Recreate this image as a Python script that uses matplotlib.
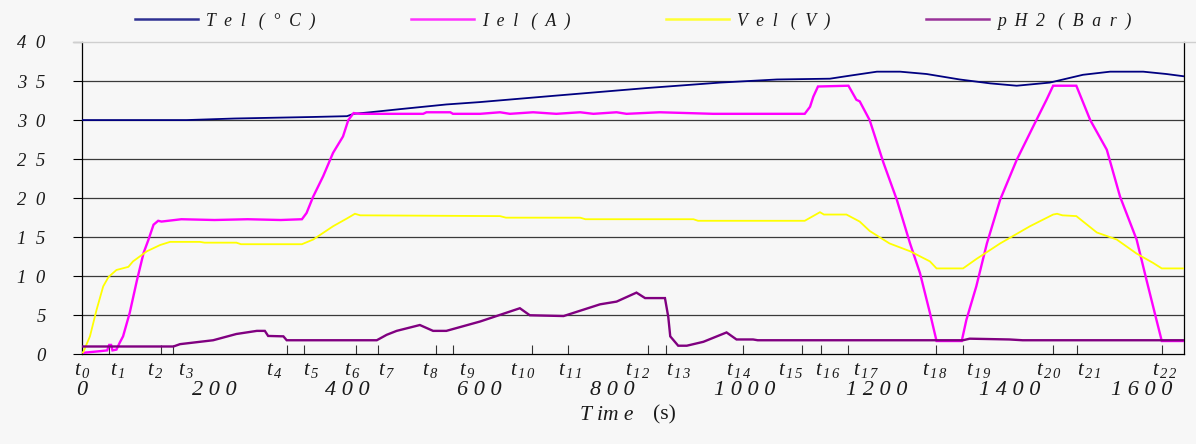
import matplotlib
matplotlib.use("Agg")
import matplotlib.pyplot as plt
from matplotlib.lines import Line2D

# ---- data (time in s) ----
tel_t = [0, 158, 230, 350, 400, 410, 435, 480, 550, 600, 711, 852, 963, 1049, 1129,
         1160, 1200, 1235, 1275, 1325, 1371, 1411, 1461, 1511, 1552, 1602, 1637, 1664]
tel_v = [30.0, 30.0, 30.2, 30.4, 30.5, 30.8, 31.0, 31.4, 32.0, 32.3, 33.1, 34.1, 34.8, 35.2, 35.3,
         35.7, 36.2, 36.2, 35.9, 35.2, 34.7, 34.4, 34.8, 35.8, 36.2, 36.2, 35.9, 35.6]

iel_t = [3, 27, 38, 41, 44, 46, 52, 57, 62, 72, 83, 93, 100, 108, 115, 120, 150, 200, 250,
         300, 332, 339, 349, 364, 379, 394, 402, 410, 420, 515, 520, 556, 560, 601, 631, 646,
         681, 716, 752, 772, 807, 822, 872, 913, 953, 1091, 1099, 1104, 1111, 1157, 1169, 1174,
         1189, 1210, 1230, 1250, 1265, 1280, 1290, 1328, 1335, 1350, 1366, 1386, 1411, 1436,
         1456, 1466, 1501, 1522, 1547, 1567, 1592, 1607, 1622, 1630, 1664]
iel_v = [0.2, 0.4, 0.5, 1.2, 1.2, 0.5, 0.6, 1.5, 2.3, 5.3, 9.5, 13.0, 14.6, 16.6, 17.1, 17.0,
         17.3, 17.2, 17.3, 17.2, 17.3, 18.1, 20.2, 22.8, 25.8, 27.9, 30.0, 30.9, 30.8, 30.8,
         31.0, 31.0, 30.8, 30.8, 31.0, 30.8, 31.0, 30.8, 31.0, 30.8, 31.0, 30.8, 31.0, 30.9,
         30.8, 30.8, 31.7, 33.0, 34.3, 34.4, 32.6, 32.4, 30.0, 24.5, 19.8, 14.2, 10.4, 5.3,
         1.7, 1.7, 4.4, 8.7, 14.2, 19.8, 24.9, 29.2, 32.6, 34.4, 34.4, 30.0, 26.2, 20.2, 14.7,
         9.5, 4.4, 1.7, 1.7]

vel_t = [0, 2, 12, 22, 32, 40, 52, 70, 77, 98, 118, 133, 178, 185, 233, 240, 332, 349, 379,
         400, 412, 420, 631, 640, 752, 760, 923, 930, 1091, 1114, 1120, 1154, 1174, 1189, 1219,
         1250, 1280, 1290, 1330, 1350, 1386, 1431, 1466, 1472, 1480, 1501, 1532, 1562, 1592,
         1617, 1630, 1664]
vel_v = [0.2, 0.3, 2.3, 5.7, 8.7, 9.9, 10.8, 11.2, 11.9, 13.2, 14.0, 14.4, 14.4, 14.3, 14.3,
         14.1, 14.1, 14.7, 16.4, 17.4, 18.0, 17.8, 17.7, 17.5, 17.5, 17.3, 17.3, 17.1, 17.1,
         18.2, 17.9, 17.9, 17.0, 15.8, 14.2, 13.2, 11.9, 11.0, 11.0, 12.2, 14.2, 16.4, 17.9,
         18.0, 17.8, 17.7, 15.6, 14.7, 12.9, 11.7, 11.0, 11.0]

ph2_t = [0, 138, 148, 198, 233, 264, 276, 281, 304, 309, 445, 460, 475, 510, 530, 550, 601,
         661, 676, 727, 782, 807, 837, 850, 880, 885, 888, 900, 913, 938, 973, 988, 1013, 1020,
         1330, 1340, 1400, 1420, 1664]
ph2_v = [1.0, 1.0, 1.3, 1.8, 2.6, 3.0, 3.0, 2.35, 2.3, 1.8, 1.8, 2.5, 3.0, 3.75, 3.0, 3.0, 4.2,
         5.9, 5.0, 4.9, 6.4, 6.75, 7.9, 7.2, 7.2, 4.8, 2.3, 1.1, 1.1, 1.6, 2.8, 1.9, 1.9, 1.8,
         1.8, 2.0, 1.9, 1.8, 1.8]

# phase instants t0..t22
t_marks = [0, 41, 119, 137, 309, 335, 414, 447, 534, 560, 679, 734, 854, 881, 998,
           1087, 1115, 1156, 1289, 1330, 1466, 1502, 1630]
x_numbers = [0, 200, 400, 600, 800, 1000, 1200, 1400, 1600]
y_values = [0, 5, 10, 15, 20, 25, 30, 35, 40]

legend_labels = ["T  e  l   (  °  C  )", "I  e  l   (  A  )",
                 "V  e  l   (  V  )", "p  H  2   (  B  a  r  )"]

# where each t label starts relative to its tick (pixels), as hand-placed in the original
t_label_shift = [-8, 1, -14, 5, -21, -1, -12, 0, -14, 6, -22, -10, -23, 0, -17, -24,
                 -6, 5, -14, 3, -17, 0, -10]

# ---- style ----
plt.rcParams['font.family'] = ['Liberation Serif', 'DejaVu Serif']
plt.rcParams['font.style'] = 'italic'
plt.rcParams['mathtext.fontset'] = 'custom'
plt.rcParams['mathtext.rm'] = 'Liberation Serif:italic'
plt.rcParams['mathtext.it'] = 'Liberation Serif:italic'

bg = '#f7f7f7'
fig = plt.figure(figsize=(11.96, 4.44), dpi=100, facecolor=bg)
ax = fig.add_axes([82 / 1196, 1 - 354.3 / 444, (1184.3 - 82) / 1196, 312.3 / 444])
ax.set_facecolor(bg)

colors = ['#000080', '#ff00ff', '#ffff00', '#800080']
widths = [1.3, 1.7, 1.3, 1.7]
series = [(tel_t, tel_v), (iel_t, iel_v), (vel_t, vel_v), (ph2_t, ph2_v)]
for (xs, ys), c, w in zip(series, colors, widths):
    ax.plot(xs, ys, color=c, lw=w, solid_joinstyle='miter', zorder=3)

ax.set_xlim(0, 1664)
ax.set_ylim(0, 40)

# y axis
ax.set_yticks(y_values)
ax.set_yticklabels(["  ".join(str(v)) for v in y_values])
ax.tick_params(axis='y', direction='out', length=6.2, width=0.8, color='black',
               pad=20, labelsize=13.5, labelcolor='#1a1a1a')
ax.yaxis.grid(True, color='#3a3a3a', lw=0.9, zorder=1)
ax.get_ygridlines()[-1].set_visible(False)
ax.get_ygridlines()[0].set_visible(False)

# x axis: phase instants (ticks, labels placed by hand) + seconds (minor labels)
ax.xaxis.remove_overlapping_locs = False
ax.set_xticks(t_marks)
ax.set_xticklabels([])
ax.tick_params(axis='x', which='major', direction='in', length=6.5, width=0.8,
               color='#333333')
ax.set_xticks(x_numbers, minor=True)
ax.set_xticklabels([" ".join(str(v)) for v in x_numbers], minor=True)
ax.tick_params(axis='x', which='minor', direction='in', length=0, pad=19,
               labelsize=16, labelcolor='#1a1a1a')

for i, (tm, sh) in enumerate(zip(t_marks, t_label_shift)):
    lab = r'$t_{\,%s}$' % r'\,'.join(str(i))
    ax.annotate(lab, xy=(tm, 0), xycoords=('data', 'axes fraction'),
                xytext=(sh * 0.72, -5), textcoords='offset points',
                ha='left', va='top', fontsize=15, color='#1a1a1a', annotation_clip=False)

for side in ['left', 'bottom', 'right']:
    ax.spines[side].set_color('black')
    ax.spines[side].set_linewidth(0.9)
ax.spines['top'].set_visible(False)

# light top line across the figure
fig.add_artist(Line2D([73 / 1196, 1.0], [1 - 42 / 444, 1 - 42 / 444],
                      color='#cfcfcf', lw=1.0))

# legend
handles = [Line2D([], [], color=c, lw=1.8) for c in ['#2e3192', '#ff33ff', '#ffff33', '#993399']]
ax.legend(handles, legend_labels, loc='center', bbox_to_anchor=(0.5, 1 + 21 / 312.3),
          ncol=4, frameon=False, fontsize=12.7, handlelength=3.6, handletextpad=0.45,
          columnspacing=5.4, labelcolor='#1a1a1a')

# axis title
fig.text(633 / 1196, 1 - 415 / 444, "T im e", ha='right', va='center', fontsize=15.5,
         color='#1a1a1a')
fig.text(653 / 1196, 1 - 415 / 444, "(s)", ha='left', va='center', fontsize=15.5,
         style='normal', color='#1a1a1a')

fig.savefig("out.png", dpi=100, facecolor=bg)
